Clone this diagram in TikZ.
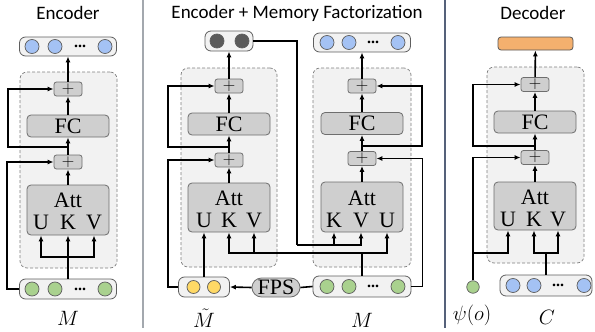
\documentclass[tikz,border=0pt]{standalone}
\usepackage{fontspec}
\setmainfont{Liberation Serif}
\newfontfamily\titlefont{Carlito}
\usetikzlibrary{arrows.meta, calc}

\definecolor{boxfill}{HTML}{CFCFCF}
\definecolor{boxline}{HTML}{6E6E6E}
\definecolor{framefill}{HTML}{F2F2F2}
\definecolor{framec}{HTML}{7F7F7F}
\definecolor{barline}{HTML}{5E5E5E}
\definecolor{memblue}{HTML}{A4C2F4}
\definecolor{memgreen}{HTML}{A9D18E}
\definecolor{memyellow}{HTML}{FFD966}
\definecolor{memdark}{HTML}{5A5A5A}
\definecolor{outorange}{HTML}{F4B06E}
\definecolor{sepgray}{HTML}{A3A8AE}
\definecolor{sepblue}{HTML}{55617A}

\begin{document}
\begin{tikzpicture}[x=1pt, y=-1pt,
      blk/.style={draw=boxline, fill=boxfill, line width=0.8pt, rounded corners=4pt, inner sep=0pt},
      addbox/.style={blk, rounded corners=2.5pt, minimum width=28pt, minimum height=14pt, font=\fontsize{18}{18}\selectfont},
      fcbox/.style={blk, minimum width=82pt, minimum height=22pt, font=\fontsize{22}{22}\selectfont},
      attbox/.style={blk, minimum width=82pt, minimum height=50pt},
      frame/.style={draw=framec, fill=framefill, dash pattern=on 3pt off 2pt, line width=0.7pt, rounded corners=7pt, inner sep=0pt},
      bar/.style={draw=barline, fill=framefill, line width=0.8pt, rounded corners=6pt, inner sep=0pt},
      dot/.style={circle, draw=barline, line width=0.7pt, minimum size=14pt, inner sep=0pt},
      dots/.style={font=\fontsize{16}{16}\bfseries, inner sep=0pt},
      txt/.style={font=\fontsize{22}{22}\selectfont, inner sep=0pt},
      ttl/.style={font=\titlefont\fontsize{19}{20}\selectfont, inner sep=0pt},
      arr/.style={-{Latex[length=6pt,width=5pt]}, line width=1.6pt},
      ln/.style={line width=1.6pt}
    ]
      \useasboundingbox (0,0) rectangle (595,332);

      \node[ttl] (t1) at (68,13)  {Encoder};
      \node[ttl] (t2) at (297,13) {Encoder + Memory Factorization};
      \node[ttl] (t3) at (533,13) {Decoder};

      \coordinate (s1a) at (143,0);
      \coordinate (s1b) at (143,328);
      \coordinate (s2a) at (445,0);
      \coordinate (s2b) at (445,328);
      \draw[sepgray, line width=1.4pt] (s1a) -- (s1b);
      \draw[sepblue, line width=1.1pt] (s2a) -- (s2b);

      % encoder
      \node[frame, minimum width=97pt, minimum height=196pt] (fr1) at (68.5,170) {};
      \node[bar, minimum width=97pt, minimum height=19pt] (out1) at (68,46.5) {};
      \node[addbox] (add1b) at (68,89) {$+$};
      \node[fcbox]  (fc1)   at (68,126) {FC};
      \node[addbox] (add1a) at (68,162) {$+$};
      \node[attbox] (att1)  at (68,210) {};
      \node[txt] (att1t) at (68,200) {Att};
      \node[txt] (u1) at (41,222) {U};
      \node[txt] (k1) at (68,222) {K};
      \node[txt] (v1) at (94,222) {V};
      \node[bar, minimum width=97pt, minimum height=20pt] (in1) at (68,289) {};
      \node[txt] (m1) at (68,318) {$M$};
      \foreach \dx/\nm in {-36/a, -13/b, 37/d} {
        \node[dot, fill=memblue]  (out1\nm) at ($(out1.center)+(\dx,0)$) {};
        \node[dot, fill=memgreen] (in1\nm)  at ($(in1.center)+(\dx,0)$) {};
      }
      \node[dots] (out1c) at ($(out1.center)+(12,0)$) {...};
      \node[dots] (in1c)  at ($(in1.center)+(12,0)$) {...};

      \coordinate (j1) at (68,257);
      \coordinate (r1) at (68,147);
      \draw[arr] (in1.north) -- (att1.south);
      \draw[arr] (j1) -| (u1 |- att1.south);
      \draw[arr] (j1) -| (v1 |- att1.south);
      \draw[arr] (att1) -- (add1a);
      \draw[arr] (add1a) -- (fc1);
      \draw[arr] (fc1) -- (add1b);
      \draw[arr] (add1b) -- (out1);
      \draw[arr] (in1.west) -- ++(-12,0) |- (add1a.west);
      \draw[arr] (r1) -- (8,147) |- (add1b.west);

      % encoder + memory factorization
      \node[frame, minimum width=96pt, minimum height=199pt] (fr2) at (229,167.5) {};
      \node[frame, minimum width=98pt, minimum height=199pt] (fr3) at (362,167.5) {};
      \node[bar, minimum width=48pt, minimum height=20pt] (out2) at (229,41) {};
      \node[dot, fill=memdark] (out2a) at ($(out2.center)+(-12,0)$) {};
      \node[dot, fill=memdark] (out2b) at ($(out2.center)+(13,0)$) {};
      \node[addbox] (add2b) at (229,86) {$+$};
      \node[fcbox]  (fc2)   at (229,124) {FC};
      \node[addbox] (add2a) at (229,160) {$+$};
      \node[attbox, minimum height=49pt] (att2) at (229,207.5) {};
      \node[txt] (att2t) at (229,198) {Att};
      \node[txt] (u2) at (204,220) {U};
      \node[txt] (k2) at (229,220) {K};
      \node[txt] (v2) at (254,220) {V};
      \node[bar, minimum width=51pt, minimum height=20pt] (mt) at (204,287) {};
      \node[dot, fill=memyellow, minimum size=13pt] (mta) at ($(mt.center)+(-10.5,0)$) {};
      \node[dot, fill=memyellow, minimum size=13pt] (mtb) at ($(mt.center)+(10,0)$) {};
      \node[txt] (m2) at (204,318) {$\tilde{M}$};
      \node[blk, rounded corners=9.5pt, minimum width=48pt, minimum height=19pt, font=\fontsize{22}{22}\selectfont] (fps) at (276,287.5) {FPS};

      \node[bar, minimum width=97pt, minimum height=19pt] (out3) at (362,42.5) {};
      \node[addbox] (add3b) at (362,86) {$+$};
      \node[fcbox]  (fc3)   at (362,123.5) {FC};
      \node[addbox] (add3a) at (362,158.5) {$+$};
      \node[attbox] (att3)  at (362,207) {};
      \node[txt] (att3t) at (362,198) {Att};
      \node[txt] (k3) at (334,220) {K};
      \node[txt] (v3) at (361,220) {V};
      \node[txt] (u3) at (387,220) {U};
      \node[bar, minimum width=98pt, minimum height=21pt] (in3) at (362,286.5) {};
      \node[txt] (m3) at (362,320) {$M$};
      \foreach \dx/\nm in {-35/a, -13/b, 36/d} {
        \node[dot, fill=memblue]  (out3\nm) at ($(out3.center)+(\dx,0)$) {};
        \node[dot, fill=memgreen] (in3\nm)  at ($(in3.center)+(\dx,0)$) {};
      }
      \node[dots] (out3c) at ($(out3.center)+(11,0)$) {...};
      \node[dots] (in3c)  at ($(in3.center)+(11,0)$) {...};

      \coordinate (j2) at (297,245);
      \coordinate (j3) at (362,253);
      \coordinate (r2) at (229,147);
      \coordinate (r3) at (362,146);
      \draw[ln] (out2.east) -| (j2);
      \draw[arr] (j2) -| (k3 |- att3.south);
      \draw[arr] (j2) -| (v3 |- att3.south);
      \draw[ln] (in3.north) -- (j3);
      \draw[arr] (j3) -| (k2 |- att2.south);
      \draw[arr] (j3) -| (v2 |- att2.south);
      \draw[arr] (j3) -| (u3 |- att3.south);
      \draw[arr] (mt.north) -- (mt.north |- att2.south);
      \draw[ln] (in3.west) -- (fps.east);
      \draw[arr] (fps.west) -- (mt.east);
      \draw[arr] (att2) -- (add2a);
      \draw[arr] (add2a) -- (fc2);
      \draw[arr] (fc2) -- (add2b);
      \draw[arr] (add2b) -- (out2);
      \draw[arr] (mt.west) -- ++(-10,0) |- (add2a.west);
      \draw[arr] (r2) -- (168,147) |- (add2b.west);
      \draw[arr] (att3) -- (add3a);
      \draw[arr] (add3a) -- (fc3);
      \draw[arr] (fc3) -- (add3b);
      \draw[arr] (add3b) -- (out3);
      \draw[arr] (in3.east) -- ++(11,0) |- (add3a.east);
      \draw[arr] (r3) -- (422,146) |- (add3b.east);

      % decoder
      \node[frame, minimum width=97pt, minimum height=196pt] (fr4) at (535.5,165) {};
      \node[blk, fill=outorange, draw=boxline!80!black, rounded corners=3pt, minimum width=75pt, minimum height=13pt] (out4) at (535.5,43.5) {};
      \node[addbox] (add4b) at (535,84.5) {$+$};
      \node[fcbox]  (fc4)   at (535,122) {FC};
      \node[addbox] (add4a) at (535,157.5) {$+$};
      \node[attbox, minimum height=48pt] (att4) at (535,206) {};
      \node[txt] (att4t) at (535,197) {Att};
      \node[txt] (u4) at (508,219) {U};
      \node[txt] (k4) at (534,219) {K};
      \node[txt] (v4) at (558,219) {V};
      \node[dot, fill=memgreen, minimum size=12.5pt] (psi) at (473,287) {};
      \node[txt] (psil) at (472,315) {$\psi(o)$};
      \node[bar, minimum width=92pt, minimum height=21pt] (cbar) at (546,285.5) {};
      \node[txt] (cl) at (547,317) {$C$};
      \foreach \dx/\nm in {-33/a, -12/b, 38/d}
        \node[dot, fill=memblue] (cbar\nm) at ($(cbar.center)+(\dx,0)$) {};
      \node[dots] (cbarc) at ($(cbar.center)+(12,0)$) {...};

      \coordinate (j4) at (473,253);
      \coordinate (jc) at (546,253);
      \coordinate (r4) at (535,146);
      \draw[ln] (cbar.north) -- (jc);
      \draw[arr] (jc) -| (k4 |- att4.south);
      \draw[arr] (jc) -| (v4 |- att4.south);
      \draw[arr] (psi.north) -- (j4) -| (u4 |- att4.south);
      \draw[arr] (psi.north) |- (add4a.west);
      \draw[arr] (r4) -- (r4 -| psi) |- (add4b.west);
      \draw[arr] (att4) -- (add4a);
      \draw[arr] (add4a) -- (fc4);
      \draw[arr] (fc4) -- (add4b);
      \draw[arr] (add4b) -- (out4);
    \end{tikzpicture}
\end{document}
